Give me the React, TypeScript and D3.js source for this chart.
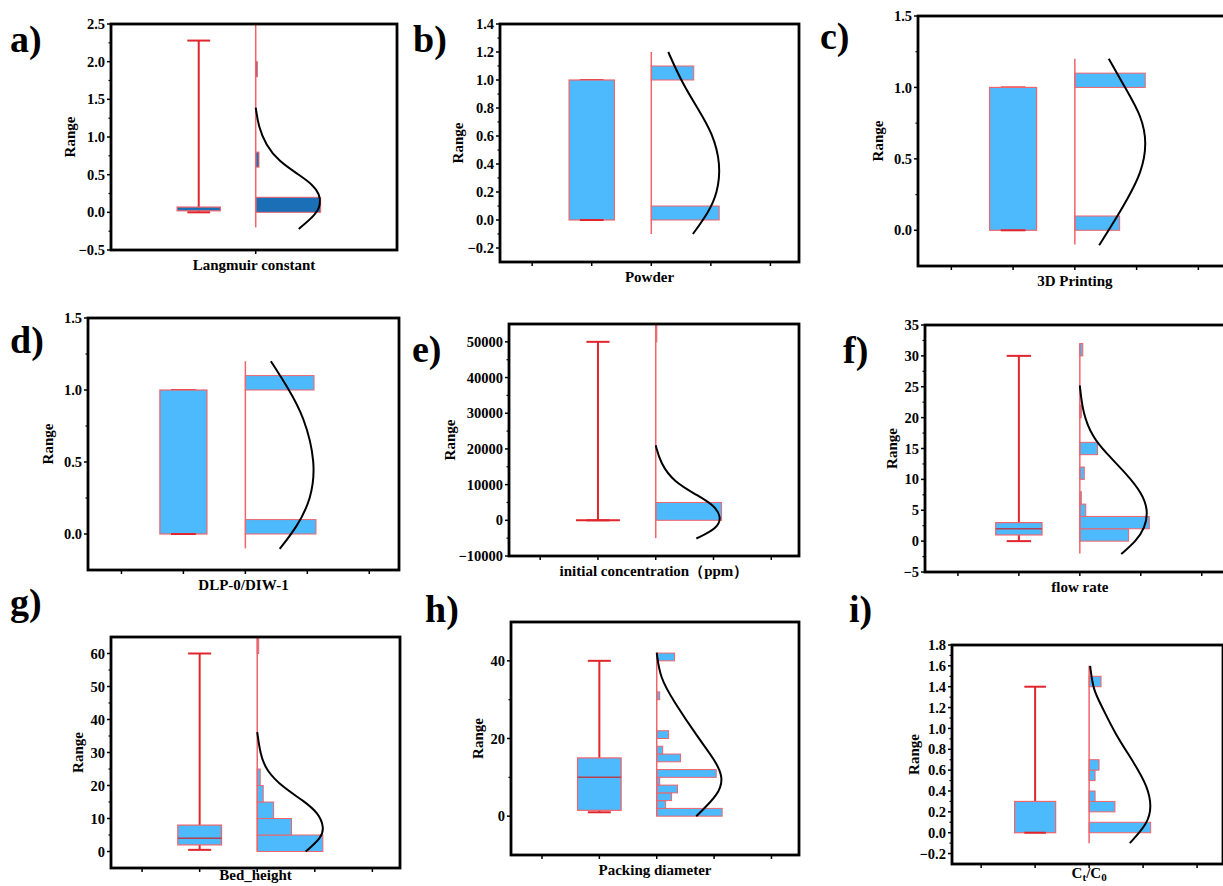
import React from 'react';
import * as d3 from 'd3';

const W = 1223;
const H = 886;
const BLUE = '#4dbafd';
const DARK_BLUE = '#1b6fb6';
const RED = '#e0262c';
const EDGE = '#f0646a';
const FONT = '"Times New Roman", "Liberation Serif", serif';

// category ticks on the x axis
const catTicks = [0.5, 1, 1.5, 2, 2.5];

// y tick values
const yTicksA = [-0.5, 0, 0.5, 1, 1.5, 2, 2.5];
const yTicksB = [-0.2, 0, 0.2, 0.4, 0.6, 0.8, 1.0, 1.2, 1.4];
const yTicksC = [0, 0.5, 1.0, 1.5];
const yTicksD = [0, 0.5, 1.0, 1.5];
const yTicksE = [-10000, 0, 10000, 20000, 30000, 40000, 50000];
const yTicksF = [-5, 0, 5, 10, 15, 20, 25, 30, 35];
const yTicksG = [0, 10, 20, 30, 40, 50, 60];
const yTicksH = [0, 20, 40];
const yTicksI = [-0.2, 0, 0.2, 0.4, 0.6, 0.8, 1.0, 1.2, 1.4, 1.6, 1.8];

// box stats: min, q1, median, q3, max
const boxA = [0, 0.02, 0.02, 0.07, 2.28];
const boxB = [0, 0, 0, 1, 1];
const boxC = [0, 0, 0, 1, 1];
const boxD = [0, 0, 0, 1, 1];
const boxE = [0, 0, 0, 0, 50000];
const boxF = [0, 1, 2, 3, 30];
const boxG = [0.5, 2, 4, 8, 60];
const boxH = [1, 1.5, 10, 15, 40];
const boxI = [0, 0, 0, 0.3, 1.4];

// histogram bins: lo, hi, count
const histA = [[0, 0.2, 40], [0.6, 0.8, 2], [1.8, 2.0, 1]];
const histB = [[0, 0.1, 8], [1.0, 1.1, 5]];
const histC = [[0, 0.1, 7], [1.0, 1.1, 11]];
const histD = [[0, 0.1, 36], [1.0, 1.1, 35]];
const histE = [[0, 5000, 60], [50000, 55000, 1]];
const histF = [[0, 2, 33], [2, 4, 47], [4, 6, 4], [6, 8, 1], [10, 12, 3], [14, 16, 12], [20, 22, 1], [30, 32, 2]];
const histG = [[0, 5, 44], [5, 10, 23], [10, 15, 11], [15, 20, 4], [20, 25, 2], [60, 65, 1]];
const histH = [[0, 2, 22], [2, 4, 3], [4, 6, 5], [6, 8, 7], [8, 10, 1], [10, 12, 20], [14, 16, 8], [16, 18, 2], [20, 22, 4], [30, 32, 1], [40, 42, 6]];
const histI = [[0, 0.1, 31], [0.2, 0.3, 13], [0.3, 0.4, 3], [0.5, 0.6, 3], [0.6, 0.7, 5], [1.4, 1.5, 6]];

// distribution curve: value, count
const curveA = [[1.39, 0], [1.13, 1.8], [0.9, 6.2], [0.68, 14], [0.5, 26.5], [0.37, 35], [0.24, 39.4], [0.1, 40], [-0.03, 37], [-0.22, 26.5]];
const curveB = [[1.2, 2], [0.976, 3.65], [0.786, 5.6], [0.62, 7.2], [0.4, 8.2], [0.19, 7.8], [0.05, 6.7], [-0.1, 4.9]];
const curveC = [[1.2, 5.3], [0.98, 8.1], [0.8, 10.4], [0.61, 11.3], [0.4, 10.4], [0.21, 8.1], [0.094, 6.6], [-0.105, 3.8]];
const curveD = [[1.2, 13], [1.02, 21.5], [0.815, 30], [0.49, 36], [0.24, 33.5], [0.053, 26.5], [-0.104, 17.5]];
const curveE = [[21000, 0], [15900, 4.5], [10800, 16.4], [7000, 38], [4200, 53], [940, 60], [-2300, 56], [-5100, 37]];
const curveF = [[25.2, 0], [20.7, 2], [16.8, 8.7], [14.2, 18], [10.9, 31.5], [7.8, 42], [4.9, 46.3], [2.1, 44], [0, 38], [-2.1, 28]];
const curveG = [[36.2, 0], [29.6, 2], [24.5, 6], [19.3, 17.6], [15.4, 31], [11.5, 41.3], [7.3, 44.7], [4.3, 43.3], [0, 32.5]];
const curveH = [[42.1, 0], [35.7, 1.1], [29.7, 5.6], [20, 14.1], [14.3, 19.7], [10, 22.4], [5.7, 21], [0, 13.3]];
const curveI = [[1.6, 0.5], [1.37, 2], [1.21, 6.5], [0.95, 13], [0.66, 23], [0.44, 29.5], [0.25, 31.5], [0.087, 29.5], [-0.1, 20.5]];

// histogram baseline span
const spanA = [-0.2, 2.5];
const spanB = [-0.1, 1.2];
const spanC = [-0.1, 1.2];
const spanD = [-0.1, 1.2];
const spanE = [-5000, 55000];
const spanF = [-2, 32];
const spanG = [0, 65];
const spanH = [0, 42];
const spanI = [-0.1, 1.6];

const panels = [
  { letter: 'a)', lx: 10, ly: 52, frame: [111, 24, 397, 250], yDomain: [-0.5, 2.5], yTicks: yTicksA, fmt: '.1f', title: 'Langmuir constant', box: boxA, hist: histA, curve: curveA, span: spanA, fill: DARK_BLUE, rangeOff: 41, xTicks: [1.5] },
  { letter: 'b)', lx: 413, ly: 52, frame: [500, 24, 799, 262], yDomain: [-0.3, 1.4], yTicks: yTicksB, fmt: '.1f', title: 'Powder', box: boxB, hist: histB, curve: curveB, span: spanB, fill: BLUE, rangeOff: 42, xTicks: catTicks },
  { letter: 'c)', lx: 820, ly: 49, frame: [918, 16, 1228, 266], yDomain: [-0.25, 1.5], yTicks: yTicksC, fmt: '.1f', title: '3D Printing', box: boxC, hist: histC, curve: curveC, span: spanC, fill: BLUE, rangeOff: 40, xTicks: catTicks },
  { letter: 'd)', lx: 10, ly: 353, frame: [88, 318, 399, 570], yDomain: [-0.25, 1.5], yTicks: yTicksD, fmt: '.1f', title: 'DLP-0/DIW-1', box: boxD, hist: histD, curve: curveD, span: spanD, fill: BLUE, rangeOff: 40, xTicks: catTicks },
  { letter: 'e)', lx: 412, ly: 362, frame: [509, 324, 799, 556], yDomain: [-10000, 55000], yTicks: yTicksE, fmt: 'd', title: 'initial concentration（ppm）', box: boxE, hist: histE, curve: curveE, span: spanE, fill: BLUE, rangeOff: 59, xTicks: catTicks },
  { letter: 'f)', lx: 843, ly: 363, frame: [925, 325, 1231, 572], yDomain: [-5, 35], yTicks: yTicksF, fmt: 'd', title: 'flow rate', box: boxF, hist: histF, curve: curveF, span: spanF, fill: BLUE, rangeOff: 33, xTicks: catTicks },
  { letter: 'g)', lx: 10, ly: 615, frame: [111, 637, 400, 868], yDomain: [-5, 65], yTicks: yTicksG, fmt: 'd', title: 'Bed_height', box: boxG, hist: histG, curve: curveG, span: spanG, fill: BLUE, rangeOff: 33, xTicks: catTicks },
  { letter: 'h)', lx: 425, ly: 622, frame: [511, 622, 799, 855], yDomain: [-10, 50], yTicks: yTicksH, fmt: 'd', title: 'Packing diameter', box: boxH, hist: histH, curve: curveH, span: spanH, fill: BLUE, rangeOff: 33, xTicks: catTicks },
  { letter: 'i)', lx: 849, ly: 622, frame: [952, 645, 1223, 864], yDomain: [-0.3, 1.8], yTicks: yTicksI, fmt: '.1f', title: 'CtC0', box: boxI, hist: histI, curve: curveI, span: spanI, fill: BLUE, rangeOff: 38, xTicks: catTicks },
];

const Panel = ({ p }: { p: any }) => {
  const [x0, y0, x1, y1] = p.frame;
  const x = d3.scaleLinear().domain([0.23, 2.74]).range([x0, x1]);
  const y = d3.scaleLinear().domain(p.yDomain).range([y1, y0]);
  const maxC = d3.max(p.hist, (d: number[]) => d[2]) as number;
  const c = d3.scaleLinear().domain([0, maxC]).range([x(1.5), x(1.5 + 0.57)]);
  const [mn, q1, md, q3, mx] = p.box;
  const bl = x(1 - 0.19), br = x(1 + 0.19);
  const cl = x(1 - 0.1), cr = x(1 + 0.1);
  const fmt = d3.format(p.fmt);

  const step = p.yTicks[1] - p.yTicks[0];
  const minors: number[] = [];
  for (let v = p.yTicks[0] - step / 2; v < p.yDomain[1]; v += step) {
    if (v > p.yDomain[0] + 1e-9 && v < p.yDomain[1] - 1e-9) minors.push(v);
  }

  const line = d3.line<number[]>()
    .x(d => c(d[1]))
    .y(d => y(d[0]))
    .curve(d3.curveBasis);

  const midX = (x0 + x1) / 2;
  const clipped = p.letter === 'c)' || p.letter === 'f)' || p.letter === 'i)';
  const titleX = clipped ? x(1.5) : midX;
  const titleY = Math.min(y1 + 20, 880);

  return (
    <g>
      {/* histogram */}
      {p.hist.map((b: number[], i: number) => (
        <rect key={i} x={c(0)} y={y(b[1])} width={c(b[2]) - c(0)} height={y(b[0]) - y(b[1])}
          fill={p.fill} stroke={EDGE} strokeWidth={1} />
      ))}
      <line x1={x(1.5)} x2={x(1.5)} y1={y(p.span[0])} y2={y(p.span[1])} stroke={EDGE} strokeWidth={1.5} />

      {/* whiskers */}
      <line x1={x(1)} x2={x(1)} y1={y(q3)} y2={y(mx)} stroke={RED} strokeWidth={2} />
      <line x1={x(1)} x2={x(1)} y1={y(q1)} y2={y(mn)} stroke={RED} strokeWidth={2} />
      <line x1={cl} x2={cr} y1={y(mx)} y2={y(mx)} stroke={RED} strokeWidth={2} />
      {/* box */}
      <rect x={bl} y={y(q3)} width={br - bl} height={Math.max(0, y(q1) - y(q3))} fill={p.fill} stroke={EDGE} strokeWidth={1.2} />
      {q3 === q1 && <line x1={bl} x2={br} y1={y(q1)} y2={y(q1)} stroke={RED} strokeWidth={2} />}
      {md > q1 && md < q3 && <line x1={bl} x2={br} y1={y(md)} y2={y(md)} stroke="#b5404f" strokeWidth={1.5} />}
      <line x1={cl} x2={cr} y1={y(mn)} y2={y(mn)} stroke={RED} strokeWidth={2} />

      {/* curve */}
      <path d={line(p.curve) || ''} fill="none" stroke="#000" strokeWidth={2} />

      {/* frame */}
      <rect x={x0} y={y0} width={x1 - x0} height={y1 - y0} fill="none" stroke="#000" strokeWidth={2.8} />

      {/* y ticks */}
      {p.yTicks.map((t: number, i: number) => (
        <g key={i}>
          <line x1={x0 - 4} x2={x0} y1={y(t)} y2={y(t)} stroke="#000" strokeWidth={1.5} />
          <text x={x0 - 6} y={y(t)} dy="0.35em" textAnchor="end" fontSize={14.5} fontWeight="bold" fontFamily={FONT}>{fmt(t)}</text>
        </g>
      ))}
      {minors.map((t, i) => (
        <line key={i} x1={x0 - 2.5} x2={x0} y1={y(t)} y2={y(t)} stroke="#000" strokeWidth={1.2} />
      ))}
      {/* x ticks */}
      {p.xTicks.map((t: number, i: number) => (
        <line key={i} x1={x(t)} x2={x(t)} y1={y1} y2={y1 + 4} stroke="#000" strokeWidth={1.5} />
      ))}

      {/* titles */}
      <text transform={`translate(${x0 - p.rangeOff},${(y0 + y1) / 2}) rotate(-90)`} textAnchor="middle" dy="0.35em"
        fontSize={15} fontWeight="bold" fontFamily={FONT}>Range</text>
      {p.title === 'CtC0' ? (
        <text x={titleX} y={Math.min(y1 + 18, 878)} textAnchor="middle" fontSize={15} fontWeight="bold" fontFamily={FONT}>
          C<tspan dy={3} fontSize={11}>t</tspan><tspan dy={-3}>/C</tspan><tspan dy={3} fontSize={11}>0</tspan>
        </text>
      ) : (
        <text x={titleX} y={titleY} textAnchor="middle" fontSize={15} fontWeight="bold" fontFamily={FONT}>{p.title}</text>
      )}
      <text x={p.lx} y={p.ly} fontSize={38} fontWeight="bold" fontFamily={FONT}>{p.letter}</text>
    </g>
  );
};

const App = () => (
  <svg width={W} height={H} style={{ position: 'absolute', left: 0, top: 0, background: '#fff' }}>
    <rect width={W} height={H} fill="#fff" />
    {panels.map((p, i) => <Panel key={i} p={p} />)}
  </svg>
);

export default App;
